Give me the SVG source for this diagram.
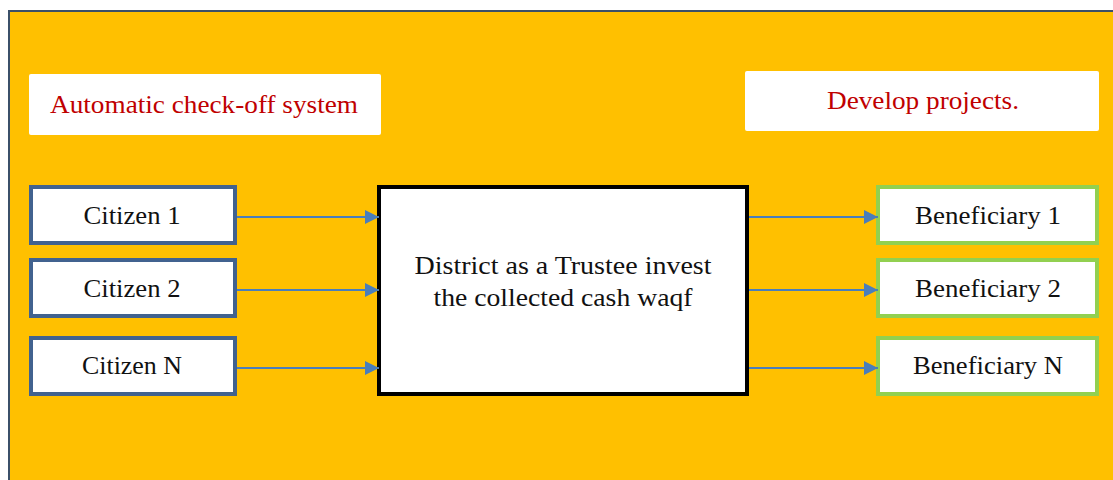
<svg xmlns="http://www.w3.org/2000/svg" width="1113" height="480" viewBox="0 0 1113 480">
  <style>
    text { font-family: "Liberation Serif", "DejaVu Serif", serif; font-size: 25px; text-anchor: middle; fill: #111; }
    .note { fill: #C00000; }
    .label-box { fill: #FFFFFF; }
    .citizen { fill: #FFFFFF; stroke: #41628F; stroke-width: 4; }
    .benef { fill: #FFFFFF; stroke: #92D050; stroke-width: 4; }
    .trustee { fill: #FFFFFF; stroke: #000000; stroke-width: 4; }
    .flow { stroke: #4A7EBB; stroke-width: 2; fill: none; marker-end: url(#arrow); }
  </style>
  <defs>
    <marker id="arrow" markerWidth="14" markerHeight="14" refX="14" refY="7" orient="auto" markerUnits="userSpaceOnUse">
      <path d="M0,0 L14,7 L0,14 Z" fill="#4A7EBB"/>
    </marker>
  </defs>

  <!-- page background and framed panel -->
  <rect x="0" y="0" width="1113" height="480" fill="#FFFFFF"/>
  <rect x="9" y="11" width="1110" height="475" fill="#FFC000" stroke="#3B5069" stroke-width="2"/>

  <!-- captions -->
  <g id="checkoff">
    <rect class="label-box" x="29" y="74" width="352" height="61" rx="2"/>
    <text class="note" x="204" y="113" textLength="308" lengthAdjust="spacingAndGlyphs">Automatic check-off system</text>
  </g>
  <g id="develop">
    <rect class="label-box" x="745" y="71" width="354" height="60" rx="2"/>
    <text class="note" x="923" y="109" textLength="192" lengthAdjust="spacingAndGlyphs">Develop projects.</text>
  </g>

  <!-- contributors -->
  <g id="citizen1">
    <rect class="citizen" x="31" y="187" width="204" height="56"/>
    <text x="132" y="224" textLength="97" lengthAdjust="spacingAndGlyphs">Citizen 1</text>
  </g>
  <g id="citizen2">
    <rect class="citizen" x="31" y="260" width="204" height="56"/>
    <text x="132" y="297" textLength="97" lengthAdjust="spacingAndGlyphs">Citizen 2</text>
  </g>
  <g id="citizenN">
    <rect class="citizen" x="31" y="338" width="204" height="56"/>
    <text x="132" y="374" textLength="100" lengthAdjust="spacingAndGlyphs">Citizen N</text>
  </g>

  <!-- trustee -->
  <g id="trustee">
    <rect class="trustee" x="379" y="187" width="368" height="207"/>
    <text x="563" y="274" textLength="297" lengthAdjust="spacingAndGlyphs">District as a Trustee invest</text>
    <text x="563" y="306" textLength="259" lengthAdjust="spacingAndGlyphs">the collected cash waqf</text>
  </g>

  <!-- beneficiaries -->
  <g id="beneficiary1">
    <rect class="benef" x="878" y="187" width="219" height="56"/>
    <text x="988" y="224" textLength="146" lengthAdjust="spacingAndGlyphs">Beneficiary 1</text>
  </g>
  <g id="beneficiary2">
    <rect class="benef" x="878" y="260" width="219" height="56"/>
    <text x="988" y="297" textLength="146" lengthAdjust="spacingAndGlyphs">Beneficiary 2</text>
  </g>
  <g id="beneficiaryN">
    <rect class="benef" x="878" y="338" width="219" height="56"/>
    <text x="988" y="374" textLength="150" lengthAdjust="spacingAndGlyphs">Beneficiary N</text>
  </g>

  <!-- connectors -->
  <g id="connectors">
    <line class="flow" x1="237" y1="217" x2="379" y2="217"/>
    <line class="flow" x1="237" y1="290" x2="379" y2="290"/>
    <line class="flow" x1="237" y1="368" x2="379" y2="368"/>
    <line class="flow" x1="749" y1="217" x2="878" y2="217"/>
    <line class="flow" x1="749" y1="290" x2="878" y2="290"/>
    <line class="flow" x1="749" y1="368" x2="878" y2="368"/>
  </g>
</svg>
